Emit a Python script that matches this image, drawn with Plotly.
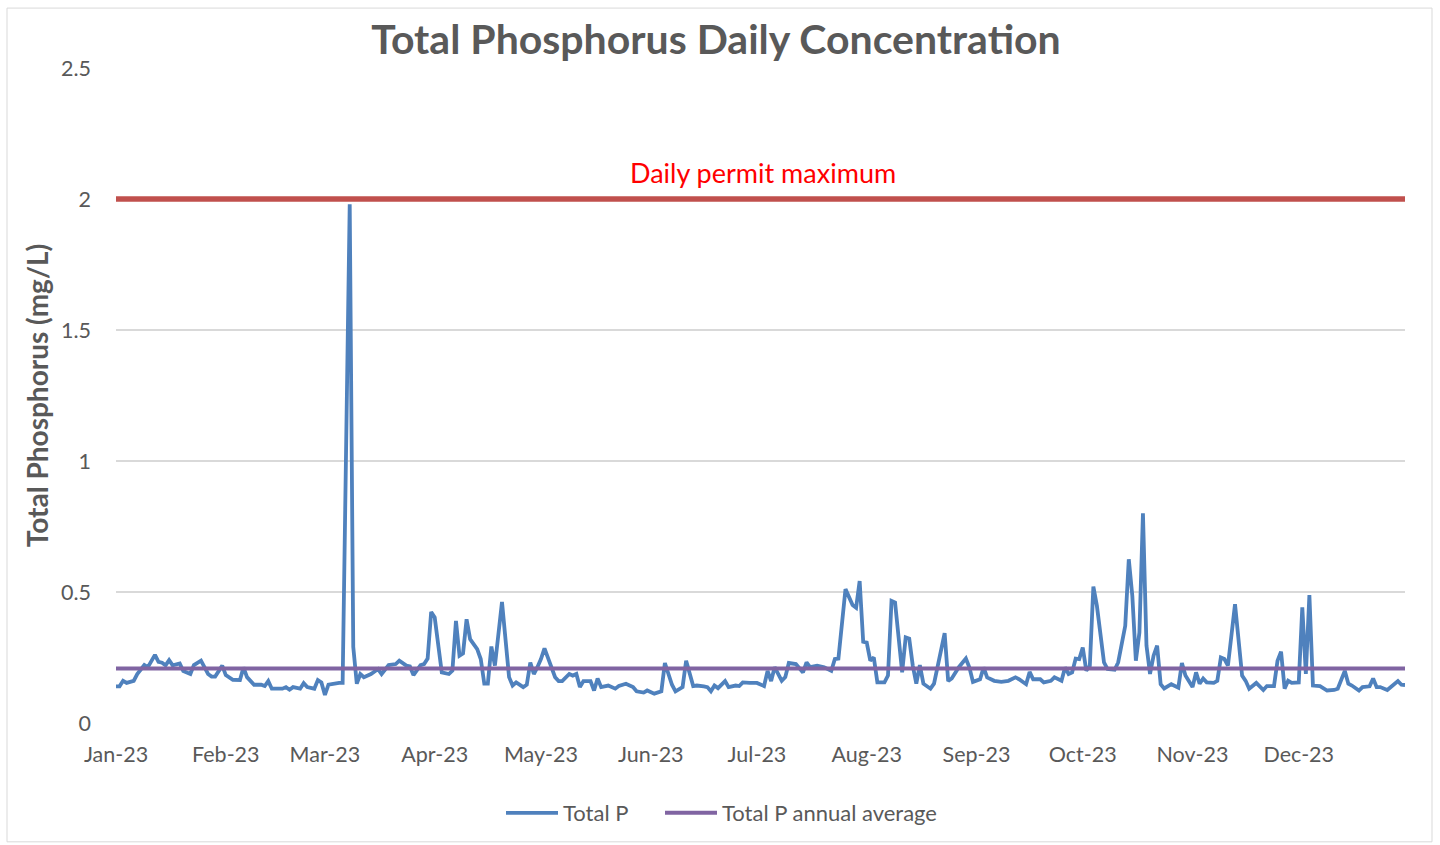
import pandas as pd
import plotly.graph_objects as go

# ---------------- data ----------------
DAY_OF_YEAR = [
    0, 1, 2, 3, 5, 6, 8, 9, 11, 12, 13, 14, 15, 16, 18, 19, 21, 22, 24, 26, 27, 28, 30, 31, 33, 35, 36, 37, 39, 41,
    42, 43, 44, 47, 48, 49, 50, 52, 53, 54, 56, 57, 58, 59, 60, 62, 63, 64, 66, 67, 68, 69, 70, 72, 74, 75, 77, 79,
    80, 82, 83, 84, 86, 87, 88, 89, 90, 92, 94, 95, 96, 97, 98, 99, 100, 102, 103, 104, 105, 106, 107, 109, 111, 112,
    113, 115, 116, 117, 118, 119, 120, 121, 123, 124, 125, 126, 128, 129, 130, 131, 132, 134, 135, 136, 137, 139,
    141, 142, 144, 146, 147, 149, 150, 152, 154, 155, 157, 158, 160, 161, 163, 164, 166, 167, 168, 169, 170, 172,
    173, 175, 176, 177, 179, 181, 183, 184, 185, 186, 188, 189, 190, 192, 194, 195, 196, 198, 200, 202, 203, 204,
    206, 208, 209, 210, 211, 212, 213, 214, 215, 217, 218, 219, 220, 222, 223, 224, 225, 226, 227, 228, 230, 231,
    234, 235, 236, 238, 240, 241, 242, 244, 245, 246, 248, 250, 252, 254, 255, 257, 258, 259, 261, 262, 264, 265,
    267, 268, 269, 270, 271, 272, 273, 274, 275, 276, 277, 279, 280, 282, 283, 285, 286, 287, 288, 289, 290, 291,
    292, 293, 294, 295, 296, 298, 300, 301, 302, 304, 305, 306, 307, 308, 310, 311, 312, 313, 314, 316, 318, 319,
    320, 322, 324, 325, 327, 328, 329, 330, 331, 332, 334, 335, 336, 337, 338, 340, 342, 344, 345, 347, 348, 349,
    351, 352, 354, 355, 356, 357, 359, 361, 362, 363, 364,
]
TOTAL_P = [
    0.14, 0.14, 0.161, 0.153, 0.161, 0.187, 0.221, 0.213, 0.26, 0.233, 0.23, 0.22, 0.24, 0.22, 0.227, 0.198, 0.187,
    0.221, 0.238, 0.187, 0.177, 0.177, 0.219, 0.183, 0.165, 0.164, 0.212, 0.175, 0.146, 0.146, 0.141, 0.16, 0.131,
    0.131, 0.137, 0.127, 0.137, 0.131, 0.152, 0.137, 0.131, 0.164, 0.155, 0.107, 0.146, 0.152, 0.153, 0.153, 1.98,
    0.29, 0.15, 0.187, 0.175, 0.187, 0.206, 0.187, 0.221, 0.225, 0.238, 0.219, 0.216, 0.183, 0.221, 0.225, 0.246,
    0.424, 0.403, 0.193, 0.187, 0.2, 0.39, 0.257, 0.266, 0.396, 0.32, 0.282, 0.244, 0.15, 0.15, 0.292, 0.219, 0.462,
    0.175, 0.143, 0.155, 0.137, 0.146, 0.231, 0.187, 0.213, 0.244, 0.285, 0.213, 0.175, 0.16, 0.16, 0.187, 0.181,
    0.187, 0.137, 0.16, 0.16, 0.124, 0.17, 0.137, 0.143, 0.131, 0.141, 0.15, 0.137, 0.121, 0.116, 0.124, 0.112,
    0.121, 0.229, 0.146, 0.121, 0.137, 0.238, 0.141, 0.143, 0.14, 0.137, 0.121, 0.143, 0.133, 0.16, 0.137, 0.143,
    0.141, 0.155, 0.153, 0.153, 0.141, 0.199, 0.16, 0.213, 0.161, 0.175, 0.229, 0.225, 0.193, 0.231, 0.213, 0.219,
    0.213, 0.199, 0.244, 0.246, 0.511, 0.45, 0.44, 0.542, 0.31, 0.307, 0.238, 0.25, 0.155, 0.155, 0.181, 0.466, 0.46,
    0.193, 0.327, 0.322, 0.219, 0.15, 0.221, 0.15, 0.131, 0.15, 0.343, 0.16, 0.17, 0.213, 0.246, 0.212, 0.157,
    0.167, 0.212, 0.174, 0.161, 0.157, 0.161, 0.174, 0.167, 0.148, 0.195, 0.167, 0.167, 0.155, 0.161, 0.174, 0.161,
    0.212, 0.187, 0.193, 0.246, 0.244, 0.288, 0.2, 0.218, 0.521, 0.447, 0.231, 0.206, 0.203, 0.231, 0.371, 0.625,
    0.485, 0.238, 0.345, 0.8, 0.295, 0.187, 0.257, 0.295, 0.148, 0.132, 0.148, 0.135, 0.229, 0.181, 0.137, 0.193,
    0.15, 0.17, 0.155, 0.153, 0.161, 0.25, 0.244, 0.219, 0.453, 0.181, 0.161, 0.131, 0.153, 0.126, 0.141, 0.141,
    0.238, 0.272, 0.131, 0.161, 0.153, 0.155, 0.441, 0.187, 0.488, 0.143, 0.141, 0.124, 0.126, 0.131, 0.199, 0.15,
    0.143, 0.124, 0.137, 0.14, 0.17, 0.137, 0.137, 0.126, 0.146, 0.16, 0.146, 0.145,
]
ANNUAL_AVERAGE = 0.208
DAILY_PERMIT_MAX = 2.0
YEAR_START = "2023-01-01"
YEAR_END = "2023-12-31"
MONTH_TICKS = ["2023-01-01", "2023-02-01", "2023-03-01", "2023-04-01", "2023-05-01", "2023-06-01",
               "2023-07-01", "2023-08-01", "2023-09-01", "2023-10-01", "2023-11-01", "2023-12-01"]
MONTH_LABELS = ["Jan-23", "Feb-23", "Mar-23", "Apr-23", "May-23", "Jun-23",
                "Jul-23", "Aug-23", "Sep-23", "Oct-23", "Nov-23", "Dec-23"]
Y_TICKS = [0, 0.5, 1, 1.5, 2, 2.5]
Y_LABELS = ["0", "0.5", "1", "1.5", "2", "2.5"]

# ---------------- figure ----------------
W, H = 1440, 845
L, R, T, B = 116, 1405, 68, 724          # plot area in pixels
FONT = "Lato"
GREY = "#595959"

dates = pd.Timestamp(YEAR_START) + pd.to_timedelta(DAY_OF_YEAR, unit="D")
span = [YEAR_START, YEAR_END]

fig = go.Figure()
fig.add_trace(go.Scatter(x=dates, y=TOTAL_P, mode="lines", name="Total P", legend="legend",
                         line=dict(color="#4F81BD", width=3.8)))
fig.add_trace(go.Scatter(x=span, y=[ANNUAL_AVERAGE] * 2, mode="lines", name="Total P annual average",
                         legend="legend2", line=dict(color="#8064A2", width=4)))
fig.add_trace(go.Scatter(x=span, y=[DAILY_PERMIT_MAX] * 2, mode="lines", name="Daily permit maximum",
                         showlegend=False, line=dict(color="#C0504D", width=5.5)))

pw, ph = R - L, B - T
def px_x(p):
    return (p - L) / pw
def px_y(p):
    return (B - p) / ph

fig.add_annotation(text="Daily permit maximum", xref="paper", yref="paper",
                   x=px_x(763), y=px_y(173), xanchor="center", yanchor="middle",
                   showarrow=False, font=dict(family=FONT, size=27, color="#FF0000"))

fig.add_shape(type="rect", xref="paper", yref="paper",
              x0=px_x(7), x1=px_x(1432), y0=px_y(843), y1=px_y(8),
              line=dict(color="#D9D9D9", width=1), layer="below")

legend_style = dict(orientation="h", xref="paper", yref="paper", y=px_y(813),
                    xanchor="left", yanchor="middle", font=dict(family=FONT, size=22, color=GREY),
                    bgcolor="rgba(0,0,0,0)", itemwidth=52)

fig.update_layout(
    width=W, height=H,
    margin=dict(l=L, r=W - R, t=T, b=H - B, pad=0),
    paper_bgcolor="white", plot_bgcolor="white",
    font=dict(family=FONT, color=GREY),
    title=dict(text="<b>Total Phosphorus Daily Concentration</b>", xref="container", yref="container",
               x=716 / W, y=1 - 40 / H, xanchor="center", yanchor="middle",
               font=dict(family=FONT, size=41, color=GREY)),
    showlegend=True,
    legend=dict(x=px_x(501), **legend_style),
    legend2=dict(x=px_x(660), **legend_style),
    xaxis=dict(type="date", range=span, tickmode="array", tickvals=MONTH_TICKS, ticktext=MONTH_LABELS,
               showgrid=False, zeroline=False, showline=False, ticks="",
               ticklabelstandoff=16, tickfont=dict(family=FONT, size=21.5, color=GREY)),
    yaxis=dict(range=[0, 2.5], tickmode="array", tickvals=Y_TICKS, ticktext=Y_LABELS,
               showgrid=True, gridcolor="#D9D9D9", gridwidth=1.5, zeroline=False, showline=False,
               ticks="", ticklabelstandoff=24, tickfont=dict(family=FONT, size=21.5, color=GREY),
               title=dict(text="<b>Total Phosphorus (mg/L)</b>", standoff=4,
                          font=dict(family=FONT, size=28, color=GREY))),
)

fig.write_html("out.html", config={"displayModeBar": False},
               post_script="document.body.style.margin='0';document.body.style.overflow='hidden';")
